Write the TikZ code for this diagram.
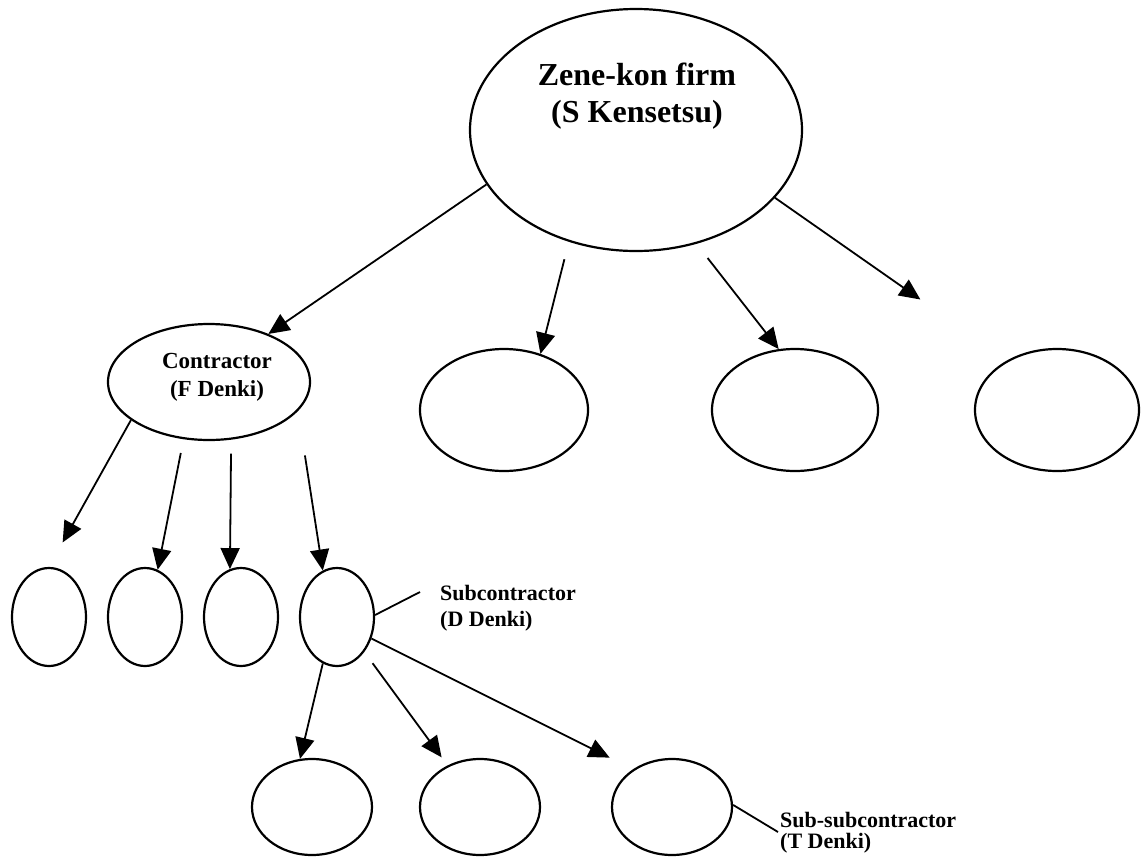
\documentclass[tikz,border=0pt]{standalone}
\usepackage{fontspec}
\setmainfont{Liberation Serif}
\usetikzlibrary{arrows.meta,shapes.geometric}
\begin{document}
\begin{tikzpicture}[x=1pt,y=-1pt,
  ell/.style={draw, ellipse, line width=2.2pt, inner sep=0pt},
  arr/.style={line width=1.8pt, -{Triangle[length=21pt,width=19pt]}},
  lead/.style={line width=1.8pt},
  big/.style={font=\fontsize{32}{37}\selectfont\bfseries, inner sep=0pt, anchor=base},
  mid/.style={font=\fontsize{23}{27}\selectfont\bfseries, inner sep=0pt, anchor=base},
  lbl/.style={font=\fontsize{22}{26}\selectfont\bfseries, inner sep=0pt, anchor=base west},
]
\useasboundingbox (0,0) rectangle (1143,857);
% ellipses
\node[ell, minimum width=332pt, minimum height=242pt] (T) at (636,130) {};
\node[ell, minimum width=202pt, minimum height=116pt] (C) at (209,382) {};
\node[ell, minimum width=168pt, minimum height=122pt] (M1) at (504,410) {};
\node[ell, minimum width=166pt, minimum height=122pt] (M2) at (795,410) {};
\node[ell, minimum width=164pt, minimum height=122pt] (M3) at (1057,410) {};
\node[ell, minimum width=74pt, minimum height=98pt] (S1) at (49,617) {};
\node[ell, minimum width=74pt, minimum height=98pt] (S2) at (145,617) {};
\node[ell, minimum width=74pt, minimum height=98pt] (S3) at (241,617) {};
\node[ell, minimum width=74pt, minimum height=98pt] (S4) at (337,617) {};
\node[ell, minimum width=120pt, minimum height=96pt] (B1) at (312,807) {};
\node[ell, minimum width=120pt, minimum height=96pt] (B2) at (480,807) {};
\node[ell, minimum width=120pt, minimum height=96pt] (B3) at (672,807) {};
% texts
\node[big] (t1) at (637,85) {Zene-kon firm};
\node[big] (t2) at (637,122) {(S Kensetsu)};
\node[mid] (c1) at (217,368) {Contractor};
\node[mid] (c2) at (217,396) {(F Denki)};
\node[lbl] (l1) at (440,600) {Subcontractor};
\node[lbl] (l2) at (440,626) {(D Denki)};
\node[lbl] (l3) at (780,827) {Sub-subcontractor};
\node[lbl] (l4) at (780,848) {(T Denki)};
% arrows from top
\draw[arr] (T.200) -- (C.39);
\draw[arr, shorten <=18pt] (T.239) -- (M1.57);
\draw[arr, shorten <=18pt] (T.298) -- (M2.105);
\draw[arr, shorten >=106pt] (T.334) -- (M3.135);
% arrows from contractor
\draw[arr, shorten >=28pt] (C.206) -- (S1.90);
\draw[arr, shorten <=14pt] (C.246) -- (S2.75);
\draw[arr, shorten <=14pt] (C.291) -- (S3.103);
\draw[arr, shorten <=45pt] (C.342) -- (S4.107);
% arrows from subcontractor
\draw[arr] (S4.253) -- (B1.104);
\draw[arr, shorten <=14pt, shorten >=10pt] (S4.308) -- (B2.128);
\draw[arr, shorten >=26pt] (S4.328) -- (B3.136);
% leaders
\coordinate (p1) at (420,592);
\coordinate (p2) at (778,832);
\draw[lead] (S4.3) -- (p1);
\draw[lead] (B3.2) -- (p2);
\end{tikzpicture}
\end{document}
